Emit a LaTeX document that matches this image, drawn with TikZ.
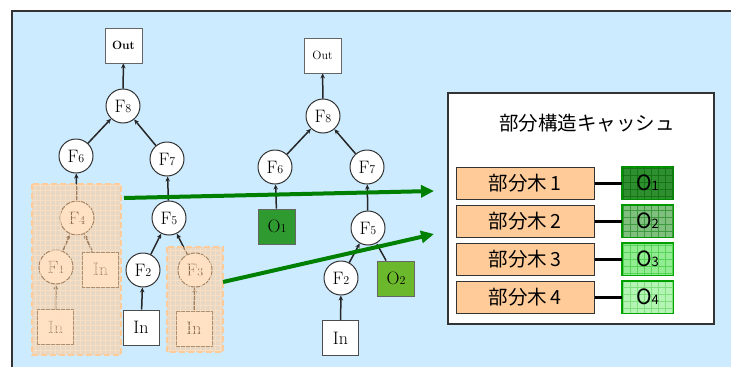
\documentclass[tikz,border=0pt]{standalone}
\usepackage{fontspec}
\newfontfamily\jp{Noto Sans CJK JP}
\usetikzlibrary{arrows.meta}
\definecolor{panel}{HTML}{CCEBFF}
\definecolor{orng}{HTML}{FFC890}
\definecolor{orngborder}{HTML}{FFCC99}
\definecolor{orngline}{HTML}{FFE2C4}
\definecolor{garrow}{HTML}{008000}
\definecolor{ogA}{HTML}{2F9A2F}
\definecolor{ogB}{HTML}{6CB82C}
\definecolor{cO1}{HTML}{2E8F2E}
\definecolor{cO2}{HTML}{7FC07F}
\definecolor{cO3}{HTML}{92EC92}
\definecolor{cO4}{HTML}{B4F4B4}
\definecolor{subfill}{HTML}{FFCC99}
\newcommand{\Fn}[1]{F{\fontsize{12}{12}\selectfont #1}}
\newcommand{\On}[1]{O{\fontsize{12}{12}\selectfont #1}}
\newcommand{\Oc}[1]{O{\fontsize{13}{13}\selectfont #1}}
\tikzset{
  fnode/.style={circle,draw=black!80,line width=1pt,fill=white,minimum size=34pt,inner sep=0pt,font=\fontsize{18}{18}\selectfont},
  outbox/.style={draw=black!60,line width=0.8pt,fill=white,minimum width=37pt,minimum height=35pt,inner sep=0pt,font=\fontsize{12}{12}\selectfont\bfseries},
  inbox/.style={draw=black!70,line width=1pt,fill=white,minimum width=36pt,minimum height=35pt,inner sep=0pt,font=\fontsize{18}{18}\selectfont},
  obox/.style={draw=black!60,line width=0.8pt,minimum width=37pt,minimum height=35pt,inner sep=0pt,font=\fontsize{18}{18}\selectfont},
  tarrow/.style={-{Stealth[length=5pt,width=4.5pt]},line width=1.5pt,black!85},
  garr/.style={-{Triangle[length=13pt,width=12pt]},line width=4pt,garrow},
  region/.style={fill=orng,opacity=0.55},
  regionborder/.style={draw=orngborder,line width=1.2pt,dash pattern=on 6pt off 3pt},
  subbox/.style={draw=black!80,line width=1pt,fill=subfill,minimum width=138pt,minimum height=32pt,inner sep=0pt,font=\jp\fontsize{19.5}{19.5}\selectfont},
  cbox/.style={draw=green!60!black,line width=1pt,minimum width=51pt,minimum height=32pt,inner sep=0pt,font=\jp\fontsize{19}{19}\selectfont},
  cline/.style={line width=3pt,black},
}
\begin{document}
\begin{tikzpicture}[x=1pt,y=-1pt]
\useasboundingbox (0,0) rectangle (731,367);
\fill[white] (0,0) rectangle (731,367);
\fill[panel] (12,11) rectangle (731,367);
\draw[black!80,line width=1.5pt] (12,367) -- (12,11) -- (731,11);

% ---------- left tree ----------
\node[outbox] (lout) at (123.5,45.5) {Out};
\node[fnode] (lf8) at (123,106) {\Fn{8}};
\node[fnode] (lf6) at (76,156) {\Fn{6}};
\node[fnode] (lf7) at (167,159) {\Fn{7}};
\node[fnode] (lf4) at (77,218) {\Fn{4}};
\node[fnode] (lf5) at (169,218) {\Fn{5}};
\node[fnode] (lf1) at (56,267) {\Fn{1}};
\node[inbox] (lin1) at (100.5,269.5) {In};
\node[fnode] (lf2) at (143,270) {\Fn{2}};
\node[fnode] (lf3) at (195,270) {\Fn{3}};
\node[inbox] (lin2) at (55.5,327) {In};
\node[inbox] (lin3) at (141,327.5) {In};
\node[inbox] (lin4) at (194,328.5) {In};
\draw[tarrow] (lf8) -- (lout);
\draw[tarrow] (lf6) -- (lf8);
\draw[tarrow] (lf7) -- (lf8);
\draw[tarrow] (lf4) -- (lf6);
\draw[tarrow] (lf5) -- (lf7);
\draw[tarrow] (lf1) -- (lf4);
\draw[tarrow] (lin1) -- (lf4);
\draw[tarrow] (lf2) -- (lf5);
\draw[tarrow] (lf3) -- (lf5);
\draw[tarrow] (lin2) -- (lf1);
\draw[tarrow] (lin3) -- (lf2);
\draw[tarrow] (lin4) -- (lf3);

% highlighted regions
\fill[region] (32,184) rectangle (121,355);
\fill[region] (167,247) rectangle (223,352);
\begin{scope}
  \clip (32,184) rectangle (121,355) (167,247) rectangle (223,352);
  \draw[orngline,line width=0.6pt,opacity=0.7] (0,0) grid[step=5pt] (240,367);
\end{scope}
\draw[regionborder] (32,184) rectangle (121,355);
\draw[regionborder] (167,247) rectangle (223,352);
\coordinate (rA) at (124,198);
\coordinate (rB) at (223,282);

% ---------- middle tree ----------
\node[outbox,font=\fontsize{12}{12}\selectfont] (mout) at (322.5,55.5) {Out};
\node[fnode] (mf8) at (323,116) {\Fn{8}};
\node[fnode] (mf6) at (275,167) {\Fn{6}};
\node[fnode] (mf7) at (367,167) {\Fn{7}};
\node[obox,fill=ogA] (mo1) at (277,226.5) {\On{1}};
\node[fnode] (mf5) at (368,228) {\Fn{5}};
\node[fnode] (mf2) at (341,278) {\Fn{2}};
\node[obox,fill=ogB] (mo2) at (396,278.5) {\On{2}};
\node[inbox] (min) at (340.5,338) {In};
\draw[tarrow] (mf8) -- (mout);
\draw[tarrow] (mf6) -- (mf8);
\draw[tarrow] (mf7) -- (mf8);
\draw[tarrow] (mo1) -- (mf6);
\draw[tarrow] (mf5) -- (mf7);
\draw[tarrow] (mf2) -- (mf5);
\draw[tarrow] (mo2) -- (mf5);
\draw[tarrow] (min) -- (mf2);

% ---------- cache ----------
\node[draw=black!80,line width=1.5pt,fill=white,minimum width=266pt,minimum height=231pt,inner sep=0pt] (cache) at (581,208.5) {};
\node[font=\jp\fontsize{19.5}{19.5}\selectfont] (ctitle) at (587,123) {部分構造キャッシュ};
\node[subbox] (s1) at (525,183) {部分木\,1};
\node[subbox] (s2) at (525,221) {部分木\,2};
\node[subbox] (s3) at (525,259) {部分木\,3};
\node[subbox] (s4) at (525,297) {部分木\,4};
\node[cbox,fill=cO1] (c1) at (647.5,183) {};
\node[cbox,fill=cO2] (c2) at (647.5,221) {};
\node[cbox,fill=cO3] (c3) at (647.5,259) {};
\node[cbox,fill=cO4] (c4) at (647.5,297) {};
\begin{scope}
  \clip (c1.south west) rectangle (c1.north east);
  \draw[green!35!black,line width=0.5pt,opacity=0.5] (600,150) grid[step=7pt] (700,330);
\end{scope}
\begin{scope}
  \clip (c2.south west) rectangle (c2.north east);
  \draw[green!45!black,line width=0.5pt,opacity=0.5] (600,150) grid[step=7pt] (700,330);
\end{scope}
\begin{scope}
  \clip (c3.south west) rectangle (c3.north east);
  \draw[green!70!black,line width=0.4pt,opacity=0.4] (600,150) grid[step=7pt] (700,330);
\end{scope}
\begin{scope}
  \clip (c4.south west) rectangle (c4.north east);
  \draw[green!70!black,line width=0.4pt,opacity=0.3] (600,150) grid[step=7pt] (700,330);
\end{scope}
\draw[green!55!black,line width=1pt] (c1.south west) rectangle (c1.north east);
\draw[green!60!black,line width=1pt] (c2.south west) rectangle (c2.north east);
\draw[green!65!black,line width=1pt] (c3.south west) rectangle (c3.north east);
\draw[green!65!black,line width=1pt] (c4.south west) rectangle (c4.north east);
\node[font=\jp\fontsize{21}{21}\selectfont] at (c1) {\Oc{1}};
\node[font=\jp\fontsize{21}{21}\selectfont] at (c2) {\Oc{2}};
\node[font=\jp\fontsize{21}{21}\selectfont] at (c3) {\Oc{3}};
\node[font=\jp\fontsize{21}{21}\selectfont] at (c4) {\Oc{4}};
\draw[cline] (s1) -- (c1);
\draw[cline] (s2) -- (c2);
\draw[cline] (s3) -- (c3);
\draw[cline] (s4) -- (c4);

% ---------- green arrows ----------
\coordinate (tA) at (434,191);
\coordinate (tB) at (434,234);
\draw[garr] (rA) -- (tA);
\draw[garr] (rB) -- (tB);
\end{tikzpicture}
\end{document}
